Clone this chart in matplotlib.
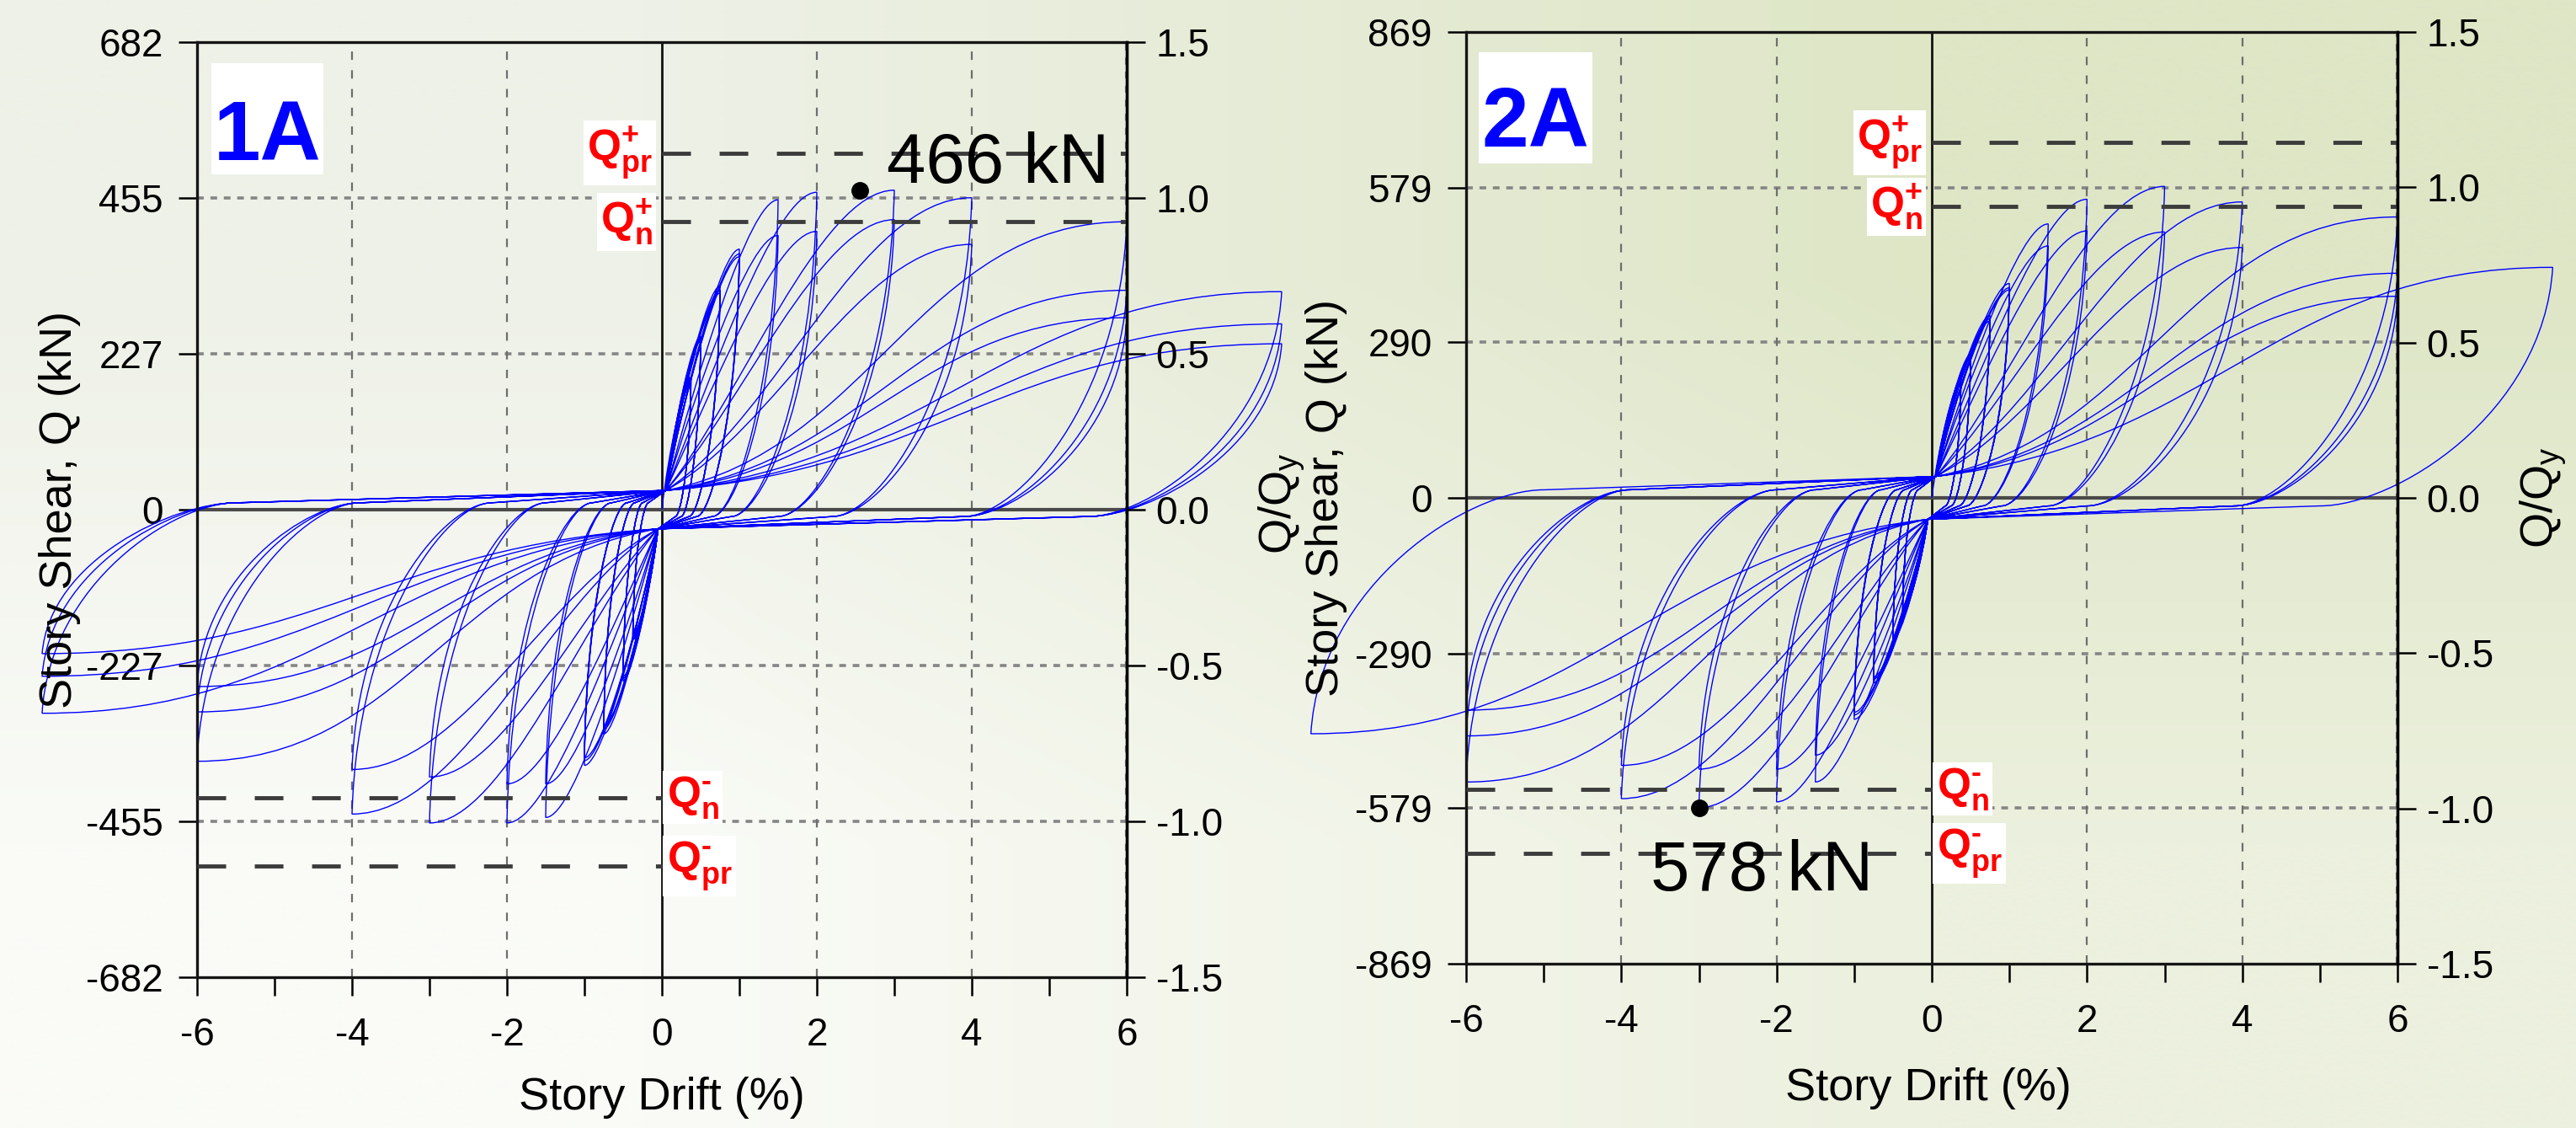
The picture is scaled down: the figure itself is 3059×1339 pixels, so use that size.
import numpy as np
import matplotlib
matplotlib.use("Agg")
import matplotlib.pyplot as plt
from matplotlib.path import Path
from matplotlib.patches import PathPatch, Rectangle
from matplotlib.ticker import MultipleLocator

plt.rcParams["font.family"] = ["Liberation Sans", "DejaVu Sans"]
plt.rcParams["axes.unicode_minus"] = False
plt.rcParams["mathtext.fontset"] = "custom"
plt.rcParams["mathtext.rm"] = "Liberation Sans"
plt.rcParams["mathtext.it"] = "Liberation Sans:italic"
plt.rcParams["mathtext.bf"] = "Liberation Sans:bold"

# drift levels of the loading protocol (%) and where the unloading branch
# crosses zero shear, measured back from the peak drift (%)
levels = [0.375, 0.5, 0.75, 1.0, 1.5, 2.0, 3.0, 4.0, 6.0, 8.0]
unload_1a = [0.2, 0.25, 0.4, 0.55, 0.85, 1.1, 1.5, 1.8, 2.1, 2.5]
unload_2a = [0.2, 0.25, 0.4, 0.55, 0.85, 1.1, 1.5, 2.0, 2.1, 3.0]

# specimen 1A: cycle amplitude (%) and peak story shear (kN) each way
drift_1a = [0.375, 0.375, 0.375, 0.5, 0.5, 0.5, 0.75, 0.75, 0.75, 1.0, 1.0, 1.0,
            1.5, 1.5, 2.0, 2.0, 3.0, 3.0, 4.0, 4.0, 6.0, 6.0, 6.0, 8.0, 8.0, 8.0]
peak_pos_1a = [193, 190, 187, 253, 249, 246, 326, 320, 316, 380, 373, 369,
               452, 400, 463, 406, 466, 423, 455, 387, 420, 320, 280, 318, 271, 242]
peak_neg_1a = [-190, -187, -184, -250, -246, -243, -327, -320, -316, -373, -366, -362,
               -449, -400, -457, -400, -457, -390, -444, -379, -367, -295, -258, -297, -243, -210]
slip_1a = (10, 28)          # pinched slip plateau, kN (far end, near zero drift)

# specimen 2A
drift_2a = [0.375, 0.375, 0.375, 0.5, 0.5, 0.5, 0.75, 0.75, 0.75, 1.0, 1.0, 1.0,
            1.5, 1.5, 2.0, 2.0, 3.0, 3.0, 4.0, 4.0, 6.0, 6.0, 6.0, 8.0]
peak_pos_2a = [220, 216, 213, 268, 264, 261, 340, 334, 330, 400, 392, 388,
               511, 470, 557, 498, 581, 496, 552, 467, 524, 419, 376, 430]
peak_neg_2a = [-215, -212, -209, -265, -261, -258, -345, -338, -334, -413, -405, -400,
               -530, -480, -567, -506, -578, -506, -561, -499, -530, -444, -396, -440]
slip_2a = (15, 40)

# axis scales and strength levels
ticks_1a = [-682, -455, -227, 0, 227, 455, 682]
ticks_2a = [-869, -579, -290, 0, 290, 579, 869]
ratio_ticks = [-1.5, -1.0, -0.5, 0.0, 0.5, 1.0, 1.5]
drift_ticks = [-6, -4, -2, 0, 2, 4, 6]
qn_1a, qpr_1a = 420, 520
qn_2a, qpr_2a = 543, 663
max_1a = (2.55, 466)
max_2a = (-3.0, -578)

W, H = 3059, 1339
BLUE = "#0000ff"


def loop_path(drift, qpos, qneg, offsets, slip):
    off = dict(zip(levels, offsets))
    s_a, s_b = slip
    targets = []
    for a, p, n in zip(drift, qpos, qneg):
        targets += [(a, p), (-a, n)]
    targets.append((None, None))
    verts = [(0.0, 0.0)]
    codes = [Path.MOVETO]
    x0, y0, o0 = 0.0, 0.0, None
    for x1, y1 in targets:
        d = -np.sign(x0) if x1 is None else (1 if x1 > x0 else -1)
        if o0 is None:
            xr, yr = x0, y0
        else:
            # unloading: steep drop from the peak, easing onto the slip plateau
            xz = x0 + d * o0
            verts += [(x0 + d * 0.04 * o0, y0 + 0.62 * (d * s_a - y0)),
                      (xz - d * 0.32 * o0, d * s_a), (xz, d * s_a)]
            codes += [Path.CURVE4] * 3
            xr, yr = d * 0.05, d * s_b
            if d * (xr - xz) > 0:
                verts.append((xr, yr))
                codes.append(Path.LINETO)
            else:
                xr, yr = xz, d * s_a
        if x1 is None:
            break
        # reloading toward the next peak
        k = min(abs(x1) / 6.0, 1.0)
        span, rise = x1 - xr, y1 - yr
        verts += [(xr + (0.2 + 0.25 * k) * span, yr + (0.45 - 0.3 * k) * rise),
                  (xr + (0.8 - 0.25 * k) * span, y1), (x1, y1)]
        codes += [Path.CURVE4] * 3
        x0, y0, o0 = x1, y1, off[abs(x1)]
    return Path(verts, codes)


def q_label(ax, x, y, txt, ha):
    ax.text(x, y, txt, color="red", fontsize=37, ha=ha, va="center", zorder=6,
            bbox=dict(facecolor="white", edgecolor="none", pad=3))


def panel(rect, ticks, drift, qpos, qneg, offsets, slip, qn, qpr, peak, peak_txt, peak_xy, tag, tag_rect, tag_base):
    ax = fig.add_axes(rect)
    ax.set_facecolor("none")
    qmax = ticks[-1]
    ax.set_xlim(-6, 6)
    ax.set_ylim(-qmax, qmax)

    # grid
    for y in [ticks[1], ticks[2], ticks[4], ticks[5]]:
        ax.axhline(y, color="#858585", lw=2.6, ls=(0, (2.2, 2.2)), zorder=1)
    for x in [-4, -2, 2, 4]:
        ax.axvline(x, color="#6e6e6e", lw=1.6, ls=(0, (4.5, 5.5)), zorder=1)
    ax.axvline(6, color="#7a7a7a", lw=3, ls=(0, (2, 2)), zorder=1)
    ax.axvline(0, color="#111111", lw=2, zorder=1.5)
    ax.axhline(0, color="#4a4a4a", lw=3, zorder=1.5)

    # hysteresis
    ax.add_patch(PathPatch(loop_path(drift, qpos, qneg, offsets, slip), fill=False,
                           edgecolor=BLUE, lw=1.0, clip_on=False, zorder=2))

    # nominal and probable strengths
    for y, x in [(qpr, (0, 6)), (qn, (0, 6)), (-qn, (-6, 0)), (-qpr, (-6, 0))]:
        ax.plot(x, [y, y], color="#3c3c3c", lw=3.5, ls=(0, (7, 7)), zorder=3)
    q_label(ax, -0.12, qpr, "$\\mathbf{Q_{pr}^{+}}$", "right")
    q_label(ax, -0.12, qn, "$\\mathbf{Q_{n}^{+}}$", "right")
    q_label(ax, 0.06, -qn, "$\\mathbf{Q_{n}^{\u2010}}$", "left")
    q_label(ax, 0.06, -qpr, "$\\mathbf{Q_{pr}^{\u2010}}$", "left")

    ax.plot(*peak, "o", color="black", ms=14, zorder=5)
    ax.text(*peak_xy, peak_txt, fontsize=60, ha="left", va="center", zorder=5)

    ax.add_patch(Rectangle(tag_rect[:2], tag_rect[2], tag_rect[3], transform=ax.transAxes,
                           facecolor="white", edgecolor="none", zorder=4))
    ax.text(tag_rect[0] + tag_rect[2] / 2, tag_base, tag, transform=ax.transAxes, fontsize=72,
            fontweight="bold", color=BLUE, ha="center", va="baseline", zorder=5)

    # axes
    ax.set_yticks(ticks)
    ax.set_yticklabels([str(t) for t in ticks])
    ax.set_xticks(drift_ticks)
    ax.set_xticklabels([str(t) for t in drift_ticks])
    ax.xaxis.set_minor_locator(MultipleLocator(1))
    ax.tick_params(axis="y", direction="out", length=16, width=1.8, labelsize=33, pad=13)
    ax.tick_params(axis="x", which="both", direction="out", length=16, width=1.8, labelsize=33, pad=18)
    for s in ax.spines.values():
        s.set_linewidth(2.4)
        s.set_color("#151515")

    tw = ax.twinx()
    tw.set_ylim(-1.5, 1.5)
    tw.set_yticks(ratio_ticks)
    tw.set_yticklabels(["%.1f" % t for t in ratio_ticks])
    tw.tick_params(axis="y", direction="out", length=16, width=1.8, labelsize=33, pad=9)
    for side in ["left", "top", "bottom"]:
        tw.spines[side].set_visible(False)
    tw.spines["right"].set_linewidth(2.4)
    return ax


fig = plt.figure(figsize=(W / 100, H / 100), dpi=100)

bg = fig.add_axes([0, 0, 1, 1], zorder=-1)
corners = np.array([[[238, 241, 231], [222, 230, 198]],
                    [[250, 251, 247], [236, 240, 222]]]) / 255.0
bg.imshow(corners, extent=[0, 1, 0, 1], interpolation="bilinear", aspect="auto")
bg.axis("off")

panel([234 / W, (H - 1160) / H, 1104 / W, 1110 / H], ticks_1a, drift_1a, peak_pos_1a, peak_neg_1a,
      unload_1a, slip_1a, qn_1a, qpr_1a, max_1a, "466 kN", (2.9, 504), "1A",
      (0.0154, 0.8586, 0.1205, 0.119), 0.874)
panel([1741 / W, (H - 1144) / H, 1106 / W, 1106 / H], ticks_2a, drift_2a, peak_pos_2a, peak_neg_2a,
      unload_2a, slip_2a, qn_2a, qpr_2a, max_2a, "578 kN", (-3.62, -698), "2A",
      (0.0136, 0.859, 0.122, 0.119), 0.877)

# axis titles
fig.text(71 / W, 1 - 605 / H, "Story Shear, Q (kN)", rotation=90, fontsize=39, ha="center", va="center")
fig.text(1522 / W, 1 - 598 / H, r"Q/Q$_\mathregular{y}$", rotation=90, fontsize=39, ha="center", va="center")
fig.text(1575 / W, 1 - 591 / H, "Story Shear, Q (kN)", rotation=90, fontsize=39, ha="center", va="center")
fig.text(3020 / W, 1 - 591 / H, r"Q/Q$_\mathregular{y}$", rotation=90, fontsize=39, ha="center", va="center")
fig.text(786 / W, 1 - 1303 / H, "Story Drift (%)", fontsize=39, ha="center", va="center")
fig.text(2290 / W, 1 - 1292 / H, "Story Drift (%)", fontsize=39, ha="center", va="center")

fig.savefig("out.png", dpi=100)
